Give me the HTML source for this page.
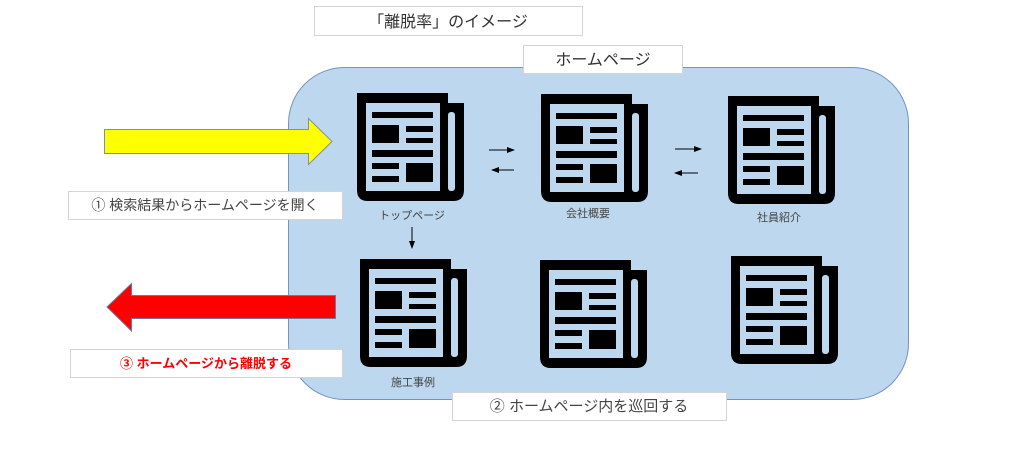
<!DOCTYPE html>
<html>
<head>
<meta charset="utf-8">
<style>
html,body{margin:0;padding:0;background:#fff;}
svg{display:block;}
text{font-family:"Liberation Sans","Noto Sans CJK JP",sans-serif;}
</style>
</head>
<body>
<svg width="1024" height="449" viewBox="0 0 1024 449" xmlns="http://www.w3.org/2000/svg">
<defs>
<g id="icon">
<path d="M0,0 H91 V10 H107 V97 Q107,108 96,108 H11 Q0,108 0,97 Z" fill="#000"/>
<rect x="9" y="10" width="74" height="88" fill="#BDD7EE"/>
<rect x="91" y="19" width="7" height="79" rx="3" fill="#BDD7EE"/>
<rect x="15" y="19" width="61" height="6" fill="#000"/>
<rect x="15" y="32" width="27" height="18" fill="#000"/>
<rect x="49" y="33" width="27" height="6" fill="#000"/>
<rect x="49" y="45" width="27" height="5" fill="#000"/>
<rect x="15" y="57" width="61" height="7" fill="#000"/>
<rect x="15" y="70" width="27" height="6" fill="#000"/>
<rect x="49" y="70" width="27" height="19" fill="#000"/>
<rect x="15" y="83" width="27" height="6" fill="#000"/>
</g>
<marker id="ah" markerWidth="8" markerHeight="6" refX="7" refY="3" orient="auto" markerUnits="userSpaceOnUse">
<path d="M0,0 L8,3 L0,6 Z" fill="#000"/>
</marker>
</defs>

<!-- main rounded rect -->
<rect x="288.5" y="67.5" width="620" height="332" rx="56" ry="56" fill="#BDD7EE" stroke="#7393C6" stroke-width="1"/>

<!-- title box -->
<rect x="314.5" y="6.5" width="268" height="29" fill="#fff" stroke="#d4d4d4"/>
<text x="448" y="27" font-size="16" fill="#333" text-anchor="middle">「離脱率」のイメージ</text>

<!-- homepage box -->
<rect x="523.5" y="45.5" width="159" height="28" fill="#fff" stroke="#d4d4d4"/>
<text x="603" y="65" font-size="16" fill="#333" text-anchor="middle">ホームページ</text>

<!-- yellow arrow -->
<path d="M104.5,129.5 H308.5 V118.5 L332,141.5 L308.5,164.5 V153.5 H104.5 Z" fill="#FFFF00" stroke="#7F8FA8" stroke-width="1"/>

<!-- label 1 -->
<rect x="68.5" y="191.5" width="274" height="28" fill="#fff" stroke="#d4d4d4"/>
<text x="205" y="210" font-size="14" fill="#444" text-anchor="middle">① 検索結果からホームページを開く</text>

<!-- red arrow -->
<path d="M335.5,295.5 H131.5 V283.5 L107,307 L131.5,331 V318.5 H335.5 Z" fill="#FF0000" stroke="#6A7BA0" stroke-width="1"/>

<!-- label 3 -->
<rect x="70.5" y="349.5" width="272" height="28" fill="#fff" stroke="#d4d4d4"/>
<text x="206" y="368" font-size="13" font-weight="bold" fill="#FF0000" text-anchor="middle">③ ホームページから離脱する</text>

<!-- label 2 -->
<rect x="452.5" y="392.5" width="274" height="28" fill="#fff" stroke="#d4d4d4"/>
<text x="589" y="411" font-size="15" fill="#444" text-anchor="middle">② ホームページ内を巡回する</text>

<!-- icons -->
<use href="#icon" x="357" y="93"/>
<use href="#icon" x="541" y="94"/>
<use href="#icon" x="728" y="96"/>
<use href="#icon" x="360" y="259"/>
<use href="#icon" x="540" y="260"/>
<use href="#icon" x="731" y="256"/>

<!-- icon labels -->
<text x="412" y="219" font-size="11" fill="#444" text-anchor="middle">トップページ</text>
<text x="588" y="217" font-size="11" fill="#444" text-anchor="middle">会社概要</text>
<text x="779" y="221" font-size="11" fill="#444" text-anchor="middle">社員紹介</text>
<text x="413" y="386" font-size="11" fill="#444" text-anchor="middle">施工事例</text>

<!-- small arrows -->
<line x1="489" y1="150" x2="514" y2="150" stroke="#000" stroke-width="1" marker-end="url(#ah)"/>
<line x1="514" y1="170" x2="492" y2="170" stroke="#000" stroke-width="1" marker-end="url(#ah)"/>
<line x1="675" y1="149" x2="701" y2="149" stroke="#000" stroke-width="1" marker-end="url(#ah)"/>
<line x1="698" y1="173" x2="675" y2="173" stroke="#000" stroke-width="1" marker-end="url(#ah)"/>
<line x1="412" y1="227" x2="412" y2="248" stroke="#000" stroke-width="1" marker-end="url(#ah)"/>
</svg>
</body>
</html>
